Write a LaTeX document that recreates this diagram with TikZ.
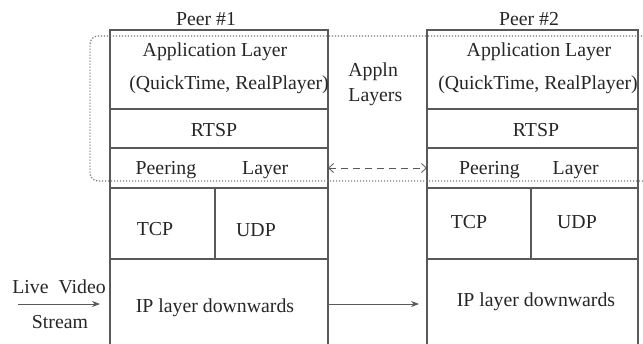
\documentclass[tikz,border=0pt]{standalone}
\usepackage{fontspec}
\setmainfont{Liberation Serif}
\usetikzlibrary{positioning,fit,arrows.meta}

\tikzset{
  cell/.style={draw=black!65, line width=0.6pt, inner sep=0pt, outer sep=0pt},
  txt/.style={inner sep=0pt, yshift=-1pt, text=black!85, font=\fontsize{9.9}{12.5}\selectfont},
  grp/.style={draw=black!55, dash pattern=on 0.6pt off 0.9pt, line width=0.6pt, rounded corners=4pt, inner sep=0pt},
  barb/.tip={Straight Barb[length=2.5pt,width=4.5pt]},
}

\begin{document}
\begin{tikzpicture}[x=0.5pt, y=-0.5pt, node distance=0pt]
    \useasboundingbox (0,0) rectangle (643,343);
    \clip (0,0) rectangle (643,343);

    % peer 1 stack
    \node (a1) [cell, minimum width=109pt, minimum height=39.5pt, anchor=north west] at (110,30) {};
    \node (r1) [cell, minimum width=109pt, minimum height=19.5pt, below=of a1] {};
    \node (p1) [cell, minimum width=109pt, minimum height=20pt, below=of r1] {};
    \node (t1) [cell, minimum width=52.5pt, minimum height=35.5pt, below right=of p1.south west] {};
    \node (u1) [cell, minimum width=56.5pt, minimum height=35.5pt, right=of t1] {};
    \node (i1) [cell, minimum width=109pt, minimum height=45pt, below right=of t1.south west] {};

    % peer 2 stack
    \node (a2) [cell, minimum width=105.5pt, minimum height=39.5pt, anchor=north west] at (427,30) {};
    \node (r2) [cell, minimum width=105.5pt, minimum height=19.5pt, below=of a2] {};
    \node (p2) [cell, minimum width=105.5pt, minimum height=20pt, below=of r2] {};
    \node (t2) [cell, minimum width=52pt, minimum height=35.5pt, below right=of p2.south west] {};
    \node (u2) [cell, minimum width=53.5pt, minimum height=35.5pt, right=of t2] {};
    \node (i2) [cell, minimum width=105.5pt, minimum height=45pt, below right=of t2.south west] {};

    \node (g) [grp, fit={(90,36) (665,181)}] {};

    % texts
    \node (h1) [txt] at (206,17) {Peer \#1};
    \node (h2) [txt] at (529,17) {Peer \#2};
    \node [txt] at (215,50) {Application Layer};
    \node [txt] at (229,83) {(QuickTime, RealPlayer)};
    \node [txt] at (539,50) {Application Layer};
    \node [txt] at (538,83) {(QuickTime, RealPlayer)};
    \node [txt] at (214,128) {RTSP};
    \node [txt] at (536,128) {RTSP};
    \node [txt] at (212,168) {Peering\hspace{23pt}Layer};
    \node [txt] at (529,168) {Peering\hspace{16.5pt}Layer};
    \node [txt, align=left, anchor=west] at (348,82) {Appln\\Layers};
    \node [txt] at (155,227) {TCP};
    \node [txt] at (256,228) {UDP};
    \node [txt] at (469,220) {TCP};
    \node [txt] at (577,220) {UDP};
    \node [txt] at (215,306) {IP layer downwards};
    \node [txt] at (536,300) {IP layer downwards};
    \node [txt] at (59,285) {Live\ \ Video};
    \node [txt] at (60,320) {Stream};

    % connectors
    \coordinate (src) at (18,304);
    \draw[black!65, dashed, dash pattern=on 3.5pt off 2.5pt, barb-barb] (p1.east) -- (p2.west);
    \draw[black!65, -{Stealth[length=4pt,width=3pt]}] (i1.east) -- ([xshift=-4pt]i2.west);
    \draw[black!65, -{Stealth[length=4pt,width=3pt]}] (src) -- ([xshift=-5pt]i1.west);
\end{tikzpicture}
\end{document}
